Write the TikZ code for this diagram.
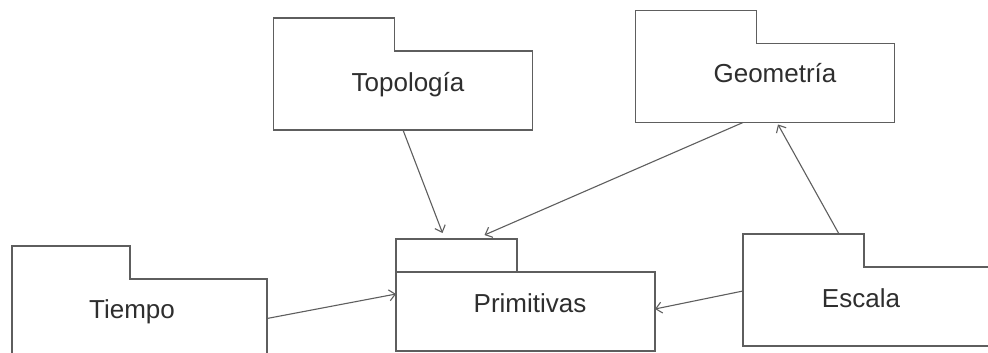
\documentclass[tikz,border=0pt]{standalone}
\usepackage{fontspec}
\setmainfont{Liberation Sans}
\usetikzlibrary{arrows.meta,positioning}

\definecolor{linegray}{HTML}{5E5E5E}
\definecolor{textgray}{HTML}{2E2E2E}

\tikzstyle{pkg}=[outer sep=0pt, inner sep=0pt, minimum width=259pt, minimum height=79pt]
\tikzstyle{pkgtab}=[outer sep=0pt, inner sep=0pt, minimum width=121pt, minimum height=33pt, anchor=south west]
\tikzstyle{pkgline}=[draw=linegray, line width=1.4pt]
\tikzstyle{pkgname}=[anchor=base, text=textgray, font=\fontsize{26}{30}\selectfont]
\tikzstyle{arrow}=[draw=linegray, line width=1.1pt, -{Straight Barb[length=6pt, width=11pt]}]

\begin{document}
\begin{tikzpicture}[x=1pt, y=-1pt]
      \useasboundingbox[fill=white] (0, 0) rectangle (988, 353);
      \clip (0, 0) rectangle (988, 353);

      \node[pkg] (topo) at (403, 90.5) {};
      \node[pkgtab] (topotab) at (topo.north west) {};
      \node[pkg] (geo) at (765, 83) {};
      \node[pkgtab] (geotab) at (geo.north west) {};
      \node[pkg, pkgline] (prim) at (525.5, 311.5) {};
      \node[pkgtab, pkgline] (primtab) at (prim.north west) {};
      \node[pkg, minimum width=255pt] (tiempo) at (139.5, 318.5) {};
      \node[pkgtab, minimum width=118pt] (tiempotab) at (tiempo.north west) {};
      \node[pkg] (escala) at (872.5, 306.5) {};
      \node[pkgtab] (escalatab) at (escala.north west) {};

      % folder outlines
      \draw[pkgline] (topotab.south west) |- (topotab.north east) |- (topo.north east) |- (topo.south west) -- cycle;
      \draw[pkgline] (geotab.south west) |- (geotab.north east) |- (geo.north east) |- (geo.south west) -- cycle;
      \draw[pkgline] (tiempotab.south west) |- (tiempotab.north east) |- (tiempo.north east) |- (tiempo.south west) -- cycle;
      \draw[pkgline] (escalatab.south west) |- (escalatab.north east) |- (escala.north east) |- (escala.south west) -- cycle;

      \node[pkgname] (topolbl) at (408, 92) {Topología};
      \node[pkgname] (geolbl) at (775, 83) {Geometría};
      \node[pkgname] (primlbl) at (530, 312) {Primitivas};
      \node[pkgname] (tiempolbl) at (132, 318) {Tiempo};
      \node[pkgname] (escalalbl) at (861, 307) {Escala};

      \draw[arrow] (topo.south) to ([shift={(-14pt, 6pt)}]primtab.north);
      \draw[arrow] ([xshift=-22pt]geo.south) to ([shift={(28pt, 4pt)}]primtab.north);
      \draw[arrow] ([xshift=-25pt]escalatab.north east) to ([shift={(13pt, -2pt)}]geo.south);
      \draw[arrow] ([yshift=15.5pt]escala.west) to ([yshift=2.5pt]prim.east);
      \draw[arrow] (tiempo.east) to ([yshift=17.5pt]prim.west);
    \end{tikzpicture}
\end{document}
